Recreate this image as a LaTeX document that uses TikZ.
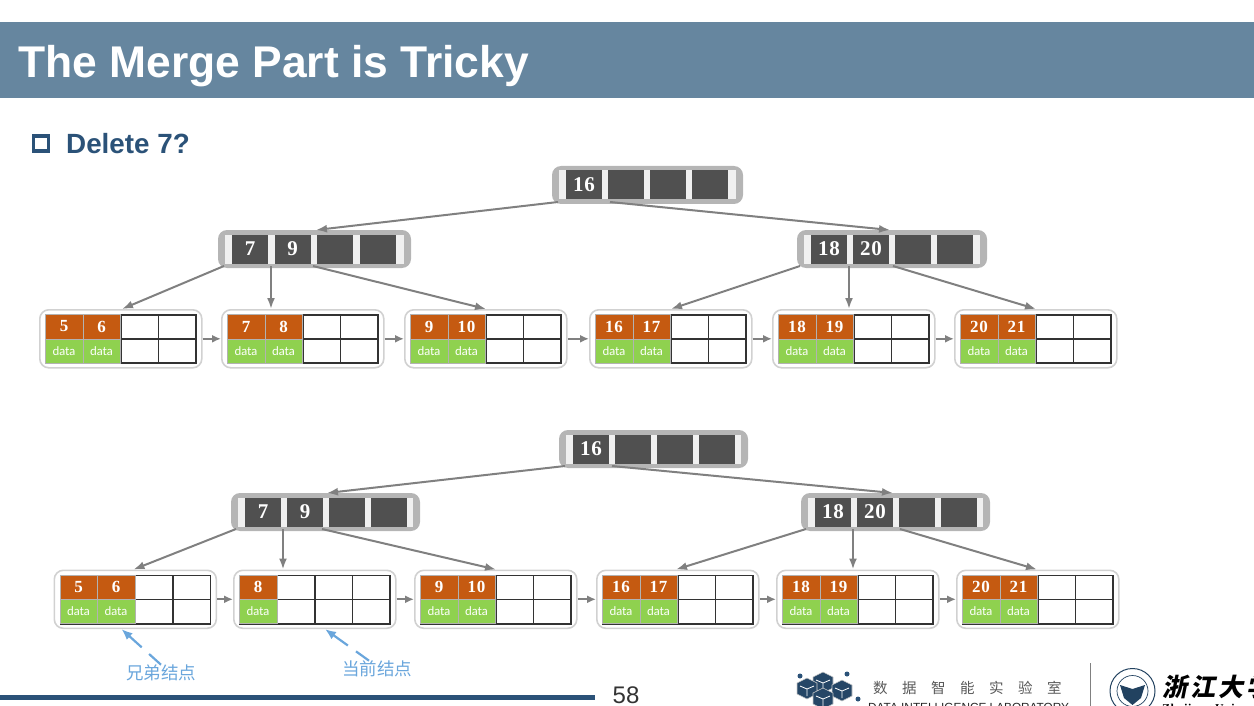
\documentclass[tikz,border=0pt]{standalone}
\usepackage{fontspec}
\setmainfont{Liberation Sans}
\newfontfamily\cjk{Noto Sans CJK SC}
\newfontfamily\unifont[FakeSlant=0.2]{Noto Sans CJK SC}
\newfontfamily\dataf{Lato}
\newfontfamily\keyf[LetterSpace=4]{Liberation Serif}
\usetikzlibrary{positioning}
\usetikzlibrary{calc}
\usetikzlibrary{arrows.meta}
\definecolor{barblue}{HTML}{66869F}
\definecolor{navy}{HTML}{2B5278}
\definecolor{keygray}{HTML}{505050}
\definecolor{bandgray}{HTML}{B5B5B5}
\definecolor{leafred}{HTML}{C55A11}
\definecolor{leafgreen}{HTML}{8FD14F}
\definecolor{hintblue}{HTML}{6AA6DC}
\tikzstyle{innerbox}=[draw=none,fill=bandgray,rounded corners=9pt,minimum height=38pt,inner sep=0pt,outer sep=0pt,anchor=north west]
\tikzstyle{innerband}=[fill=black!6,minimum height=29pt,inner sep=0pt,outer sep=0pt]
\tikzstyle{innerkey}=[fill=keygray,minimum width=36pt,minimum height=29pt,inner sep=0pt,outer sep=0pt,text=white,font=\fontsize{21}{21}\selectfont\keyf\bfseries]
\tikzstyle{leafbox}=[draw=black!18,fill=white,line width=1.6pt,rounded corners=9pt,minimum width=162pt,minimum height=58pt,inner sep=0pt,anchor=north west]
\tikzstyle{leafkey}=[fill=leafred,draw=black!30,line width=.5pt,minimum width=37.5pt,minimum height=24.5pt,inner sep=0pt,anchor=north west,text=white,font=\fontsize{17}{17}\selectfont\keyf\bfseries]
\tikzstyle{leafdata}=[fill=leafgreen,draw=black!30,line width=.5pt,minimum width=37.5pt,minimum height=24pt,inner sep=0pt,anchor=north west,text=white,font=\fontsize{12}{12}\selectfont\dataf]
\tikzstyle{leafempty}=[fill=white,draw=black!80,line width=1.6pt,minimum width=37.5pt,minimum height=24.2pt,inner sep=0pt,anchor=north west]
\tikzstyle{edge}=[draw=black!50,line width=2pt,-{Latex[length=11pt,width=8pt]}]
\tikzstyle{link}=[draw=black!50,line width=2pt,-{Latex[length=9pt,width=8pt]}]
\tikzstyle{hint}=[draw=hintblue,line width=2.2pt,-{Latex[length=11pt,width=9pt]},dash pattern=on 16pt off 10pt on 30pt off 40pt]
\tikzstyle{hinttext}=[text=hintblue,inner sep=0pt,font=\fontsize{17.5}{18}\selectfont\cjk]
\tikzstyle{cube}=[fill=navy!85!black,draw=black!20,line width=.6pt,line join=round]
\begin{document}
\begin{tikzpicture}[x=1pt,y=-1pt]
    \useasboundingbox (0,0) rectangle (1254,706);
    % Header and footer
    \fill[barblue] (0,22) rectangle (1254,98);
    \node[anchor=west,inner sep=0pt,text=white,font=\fontsize{44.4}{45}\selectfont\bfseries] (title) at (18,66) {The Merge Part is Tricky};
    \node[draw=navy,line width=3.5pt,minimum size=15pt,inner sep=0pt] (bullet) at (41,143.5) {};
    \node[anchor=west,inner sep=0pt,text=navy,font=\fontsize{27.8}{28}\selectfont\bfseries] (question) at (66,143.5) {Delete 7?};
    \fill[navy] (0,695) rectangle (595,700);
    \node[inner sep=0pt,text=black!80,font=\fontsize{24}{24}\selectfont] (pageno) at (626,695) {58};

    % First we draw the inner nodes
    \foreach \xpos/\ypos/\wid/\step/\name/\keya/\keyb in {552/166/191/42/roota/16/, 218/230/193/42.7/lefta/7/9, 797/230/190/42/righta/18/20,
                                                          559/430/189/42/rootb/16/, 231/493/189/42/leftb/7/9, 801/493/189/42/rightb/18/20} {
        \node[innerbox,minimum width=\wid pt] (\name) at (\xpos,\ypos) {};
        \node[innerband,minimum width=\wid pt-14pt] (\name band) at (\name.center) {};
        \foreach \i/\label in {0/\keya, 1/\keyb, 2/, 3/}
            \node[innerkey] (\name\i) at ($(\name.west)+(32+\i*\step,0)$) {\label};
    }

    % Then the leaves, as x/y/name/filled cells/keys
    \foreach \xpos/\ypos/\name/\keys in {39/309/leafa1/{5,6}, 221/309/leafa2/{7,8}, 404/309/leafa3/{9,10}, 589/309/leafa4/{16,17}, 772/309/leafa5/{18,19}, 954/309/leafa6/{20,21},
                                         53.5/569.5/leafb1/{5,6}, 233/569.5/leafb2/{8}, 414/569.5/leafb3/{9,10}, 596/569.5/leafb4/{16,17}, 776/569.5/leafb5/{18,19}, 956/569.5/leafb6/{20,21}} {
        \node[leafbox] (\name) at (\xpos,\ypos) {};
        \foreach \i in {0,1,2,3} {
            \node[leafempty] (\name e\i) at ($(\name.north west)+(6+\i*37.5,5)$) {};
            \node[leafempty] (\name f\i) at ($(\name.north west)+(6+\i*37.5,29.2)$) {};
        }
        \foreach \label [count=\c from 0] in \keys {
            \node[leafkey] (\name k\c) at ($(\name.north west)+(6+\c*37.5,5)$) {\label};
            \node[leafdata] (\name d\c) at ($(\name.north west)+(6+\c*37.5,29.5)$) {data};
        }
    }

    % Connect nodes with edges
    \foreach \source/\dest/\sx/\tx in {roota/lefta/6/98, roota/righta/58/93, lefta/leafa1/6/83, lefta/leafa2/53/50, lefta/leafa3/95/82,
                                       righta/leafa4/3/82, righta/leafa5/52/77, righta/leafa6/96/82,
                                       rootb/leftb/6/96, rootb/rightb/53/92, leftb/leafb1/5/80, leftb/leafb2/52/50, leftb/leafb3/91/82,
                                       rightb/leafb4/5/80, rightb/leafb5/52/77, rightb/leafb6/99/81}
        \draw[edge] ([shift={(\sx,-2)}]\source.south west) -- ([xshift=\tx pt]\dest.north west);

    \foreach \source/\dest in {leafa1/leafa2, leafa2/leafa3, leafa3/leafa4, leafa4/leafa5, leafa5/leafa6,
                               leafb1/leafb2, leafb2/leafb3, leafb3/leafb4, leafb4/leafb5, leafb5/leafb6}
        \draw[link] (\source.east) -- (\dest.west);

    % Hints below the second tree
    \node[hinttext] (sibling) at (161,673) {兄弟结点};
    \node[hinttext] (current) at (377,669) {当前结点};
    \draw[hint] (sibling.north) -- ([xshift=68pt]leafb1.south west);
    \draw[hint] ([xshift=-8pt]current.north) -- ([xshift=92pt]leafb2.south west);

    % Lab logo
    \foreach \cx/\cy in {823/682, 807/688, 842/690, 823/698} {
        \filldraw[cube] (\cx-10,\cy-5) -- (\cx,\cy-10) -- (\cx+10,\cy-5) -- (\cx+10,\cy+6) -- (\cx,\cy+11) -- (\cx-10,\cy+6) -- cycle;
        \draw[white,line width=.8pt] (\cx-7,\cy-2) -- (\cx,\cy+1) -- (\cx+7,\cy-2) (\cx,\cy+1) -- (\cx,\cy+8);
    }
    \foreach \cx/\cy in {800/676, 847/674, 858/699}
        \fill[navy] (\cx,\cy) circle (2.5);
    \node[anchor=west,inner sep=0pt,text=black!65,font=\fontsize{14.5}{15}\selectfont\cjk] (labcn) at (873,688) {数\hspace{14.5pt}据\hspace{14.5pt}智\hspace{14.5pt}能\hspace{14.5pt}实\hspace{14.5pt}验\hspace{14.5pt}室};
    \node[anchor=west,inner sep=0pt,text=black!85,font=\fontsize{11.8}{12}\selectfont] (laben) at (868,707) {DATA INTELLIGENCE LABORATORY};
    \draw[black!50,line width=1pt] (1090,663) -- (1090,706);

    % University seal and name
    \draw[navy!80!black,line width=1pt] (1132.5,691) circle (22.5);
    \draw[navy!80!black,line width=.7pt] (1132.5,691) circle (15.5);
    \fill[navy!80!black] (1120,685) -- (1132.5,689) -- (1145,685) -- (1141,698) -- (1132.5,705) -- (1124,698) -- cycle;
    \node[anchor=west,inner sep=0pt,text=black,font=\fontsize{25}{25}\selectfont\unifont\bfseries] (uni) at (1162,687) {浙\hspace{3pt}江\hspace{3pt}大\hspace{3pt}学};
    \node[anchor=west,inner sep=0pt,text=black,font=\fontsize{12}{12}\selectfont\bfseries\keyf] (unien) at (1162,710) {Zhejiang University};
\end{tikzpicture}
\end{document}
